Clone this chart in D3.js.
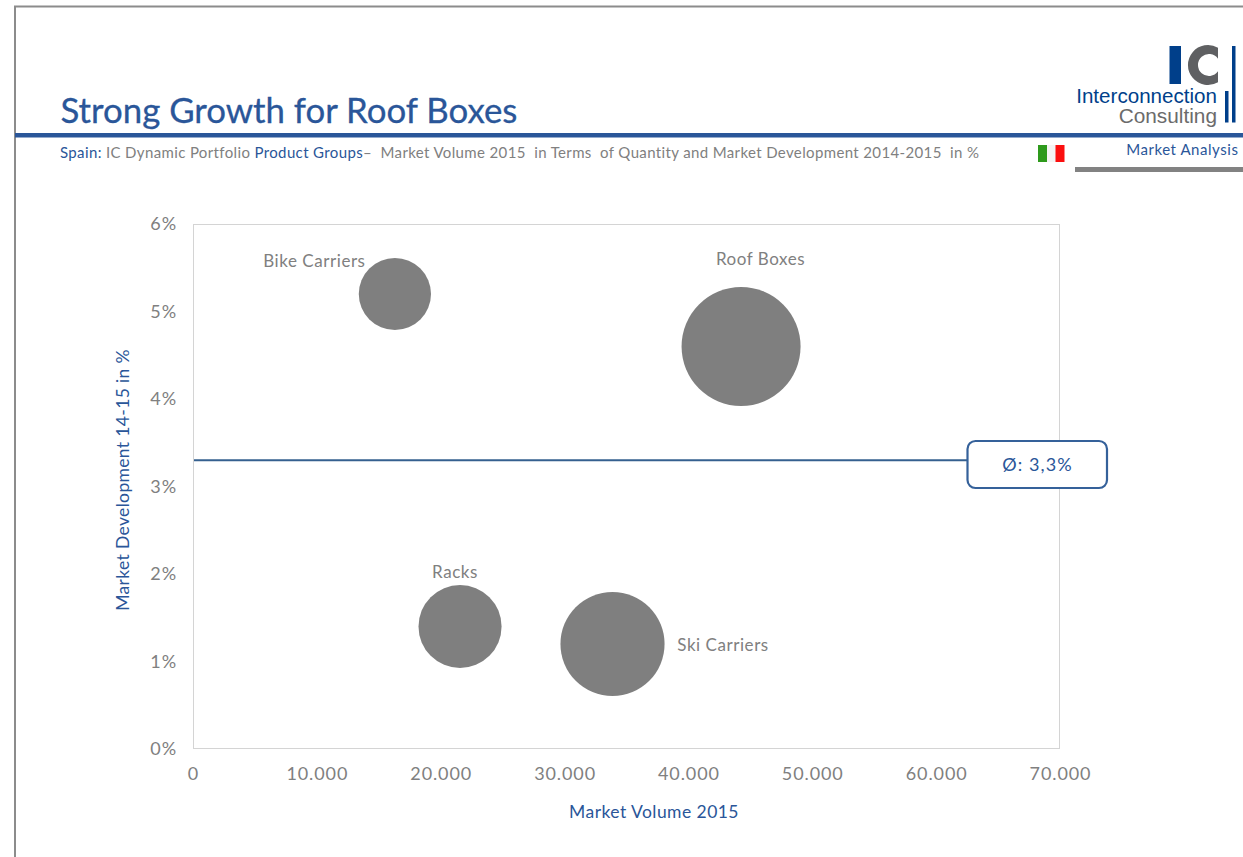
<!DOCTYPE html>
<html>
<head>
<meta charset="utf-8">
<script src="https://cdn.jsdelivr.net/npm/d3@7"></script>
<style>
html,body{margin:0;padding:0;background:#fff;overflow:hidden}
svg{display:block}
text{font-family:Lato,"Open Sans",sans-serif;white-space:pre}
</style>
</head>
<body>
<svg id="chart" width="1243" height="857"></svg>
<script>
// Product groups with market volume (units) and development (%)
const groups = ["Bike Carriers", "Roof Boxes", "Racks", "Ski Carriers"];
const volumes = [16300, 44250, 21560, 33870];
const growth = [5.2, 4.6, 1.4, 1.2];
const xTicks = [0, 10000, 20000, 30000, 40000, 50000, 60000, 70000];
const yTicks = [0, 1, 2, 3, 4, 5, 6];
const average = 3.3;
const averageLabel = "Ø: 3,3%";

const BLUE = "#2a5699", GREY = "#7f7f7f", TEXT = "#808080", NAVY = "#003f8a";
const svg = d3.select("#chart");

const x = d3.scaleLinear().domain([0, 70000]).range([193, 1060]);
const y = d3.scaleLinear().domain([0, 6]).range([749, 224]);
const r = d3.scaleSqrt().domain([0, 44250]).range([0, 59.5]);

// Page frame
svg.append("path").attr("d", "M15,857V6.5H1243").attr("fill", "none").attr("stroke", "#8c8c8c").attr("stroke-width", 2);

// Header
svg.append("text").attr("x", 60.5).attr("y", 123).attr("font-size", 34.8).attr("fill", BLUE)
  .attr("stroke", BLUE).attr("stroke-width", 0.3).text("Strong Growth for Roof Boxes");
svg.append("rect").attr("x", 15).attr("y", 133).attr("width", 1228).attr("height", 4.5).attr("fill", BLUE);

const sub = svg.append("text").attr("x", 60).attr("y", 158).attr("font-size", 15).attr("letter-spacing", 0.365).attr("fill", TEXT);
sub.append("tspan").attr("fill", BLUE).text("Spain:");
sub.append("tspan").text(" IC Dynamic Portfolio ");
sub.append("tspan").attr("fill", BLUE).text("Product Groups");
sub.append("tspan").text("–  Market Volume 2015  in Terms  of Quantity and Market Development 2014-2015  in %");

// Flag
[["#2e9a1c", 1038], ["#f4f4f4", 1047], ["#fb0f0f", 1055.5]].forEach(([c, px]) => {
  svg.append("rect").attr("x", px).attr("y", 145).attr("width", 9).attr("height", 17).attr("fill", c);
});

svg.append("text").attr("x", 1238.5).attr("y", 155).attr("text-anchor", "end").attr("font-size", 15).attr("letter-spacing", 0.55).attr("fill", BLUE).text("Market Analysis");
svg.append("rect").attr("x", 1075).attr("y", 167).attr("width", 168).attr("height", 5).attr("fill", "#828282");

// Logo
svg.append("rect").attr("x", 1169.5).attr("y", 46).attr("width", 11.5).attr("height", 38).attr("fill", NAVY);
svg.append("path").attr("d", "M1218,47.7A20,20 0 1 0 1218,82.3V71.3A11,11 0 1 1 1218,58.7Z").attr("fill", "#5f6062");
svg.append("rect").attr("x", 1232).attr("y", 46).attr("width", 3.5).attr("height", 76.5).attr("fill", NAVY);
svg.append("rect").attr("x", 1225).attr("y", 91).attr("width", 3.5).attr("height", 31.5).attr("fill", NAVY);
svg.append("text").attr("x", 1217).attr("y", 102.5).attr("text-anchor", "end").style("font-family", "Liberation Sans").attr("font-size", 20.6).attr("fill", NAVY).text("Interconnection");
svg.append("text").attr("x", 1217).attr("y", 122.5).attr("text-anchor", "end").style("font-family", "Liberation Sans").attr("font-size", 20.8).attr("fill", "#6b6b6b").text("Consulting");

// Plot frame
svg.append("rect").attr("x", 193.5).attr("y", 224.5).attr("width", 866).attr("height", 524).attr("fill", "none").attr("stroke", "#d4d4d4");

// Axes
const fmt = v => v === 0 ? "0" : d3.format(",")(v).replace(/,/g, ".");
const xAxis = svg.append("g").attr("transform", "translate(0,749)")
  .call(d3.axisBottom(x).tickValues(xTicks).tickFormat(fmt).tickSize(0).tickPadding(18));
const yAxis = svg.append("g").attr("transform", "translate(193,0)")
  .call(d3.axisLeft(y).tickValues(yTicks).tickFormat(d => d + "%").tickSize(0).tickPadding(16));
[xAxis, yAxis].forEach(g => {
  g.select(".domain").remove();
  g.selectAll("text").attr("font-size", 18).attr("letter-spacing", 0.9).attr("fill", TEXT).style("font-family", "Lato");
});

svg.append("text").attr("x", 654).attr("y", 818).attr("text-anchor", "middle").attr("font-size", 17.5).attr("letter-spacing", 0.45).attr("fill", BLUE).text("Market Volume 2015");
svg.append("text").attr("transform", "translate(129,480) rotate(-90)").attr("text-anchor", "middle").attr("font-size", 17.5).attr("letter-spacing", 0.35).attr("fill", BLUE).text("Market Development 14-15 in %");

// Bubbles, sized by volume
const points = groups.map((g, i) => ({ name: g, v: volumes[i], g: growth[i] }));
svg.append("g").selectAll("circle").data(points).join("circle")
  .attr("cx", d => x(d.v)).attr("cy", d => y(d.g)).attr("r", d => r(d.v)).attr("fill", GREY);

// Bubble labels sit beside each circle
const labelOffset = { "Bike Carriers": [-80.5, -27], "Roof Boxes": [19.5, -82], "Racks": [-5, -49], "Ski Carriers": [110.5, 7] };
svg.append("g").selectAll("text").data(points).join("text")
  .attr("x", d => x(d.v) + labelOffset[d.name][0]).attr("y", d => y(d.g) + labelOffset[d.name][1])
  .attr("text-anchor", "middle").attr("font-size", 17).attr("letter-spacing", 0.55).attr("fill", TEXT).text(d => d.name);

// Average line and callout
svg.append("line").attr("x1", 194).attr("x2", 968).attr("y1", y(average)).attr("y2", y(average)).attr("stroke", "#35608f").attr("stroke-width", 1.8);
svg.append("rect").attr("x", 967.5).attr("y", 441).attr("width", 139.5).attr("height", 47).attr("rx", 8).attr("fill", "#fff").attr("stroke", "#35619a").attr("stroke-width", 2.2);
svg.append("text").attr("x", 1037.5).attr("y", 471).attr("text-anchor", "middle").attr("font-size", 18).attr("letter-spacing", 1.1).attr("fill", BLUE).text(averageLabel);
</script>
</body>
</html>
